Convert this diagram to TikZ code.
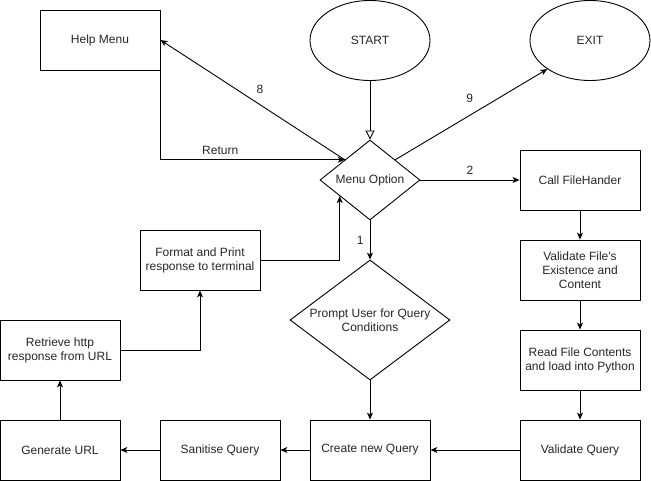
\documentclass[tikz,border=0pt]{standalone}
\usepackage{fontspec}
\setmainfont{Liberation Sans}
\usetikzlibrary{shapes.geometric,arrows.meta,calc}
\begin{document}
\begin{tikzpicture}[x=1pt,y=-1pt,
  font=\fontsize{12}{14}\selectfont,
  every node/.style={text=black!85},
  box/.style={draw=black,line width=0.9pt,rectangle,minimum width=120pt,minimum height=60pt,inner sep=0pt,align=center},
  oval/.style={draw=black,line width=0.9pt,ellipse,minimum width=120pt,minimum height=80pt,inner sep=0pt},
  dia/.style={draw=black,line width=0.9pt,diamond,inner sep=0pt},
  conn/.style={draw=black,line width=0.9pt,-{Stealth[length=7pt,width=6pt,inset=2pt]}},
  lbl/.style={inner sep=1pt}
]
\useasboundingbox (0,0) rectangle (651,481);

\node[box] (help) at (100,40) {Help Menu};
\node[oval] (start) at (370,40.5) {START};
\node[oval] (exit) at (590,40.5) {EXIT};
\node[dia,minimum width=100pt,minimum height=80pt] (menu) at (370,180) {};
\node at (menu) {Menu Option};
\node[box] (call) at (580,180) {Call FileHander};
\node[box] (fmt) at (200,260) {Format and Print\\response to terminal};
\node[box] (vfile) at (580,270) {Validate File\textquotesingle s\\Existence and\\Content};
\node[dia,minimum width=160pt,minimum height=120pt] (prompt) at (370,320) {};
\node[align=center] at (370,320) {Prompt User for Query\\Conditions};
\node[box] (retr) at (60,350) {Retrieve http\\response from URL};
\node[box] (read) at (580,360) {Read File Contents\\and load into Python};
\node[box] (gen) at (60,450) {Generate URL};
\node[box] (san) at (220,450) {Sanitise Query};
\node[box] (create) at (370,450) {Create new Query};
\node[box] (vq) at (580,450) {Validate Query};

\coordinate (mnw) at ($(menu.west)!0.5!(menu.north)$);
\coordinate (mne) at ($(menu.east)!0.5!(menu.north)$);
\coordinate (msw) at ($(menu.west)!0.4!(menu.south)$);

\draw[draw=black,line width=0.9pt,-{Triangle[open,length=9pt,width=9pt]}] (start.south) -- (menu.north);
\draw[conn] (mnw) -- node[lbl,pos=0.46,above=10pt] {8} (help.east);
\draw[conn] (help.south east) |- node[lbl,pos=0.662,above=4pt] {Return} (mnw);
\draw[conn] (mne) -- node[lbl,pos=0.49,above=11pt] {9} (exit.south west);
\draw[conn] (menu.east) -- node[lbl,above=4pt] {2} (call.west);
\draw[conn] (menu.south) -- node[lbl,pos=0.5,left=5pt] {1} (prompt.north);
\draw[conn] (fmt.east) -| (msw);
\draw[conn] (call.south) -- (vfile.north);
\draw[conn] (vfile.south) -- (read.north);
\draw[conn] (read.south) -- (vq.north);
\draw[conn] (vq.west) -- (create.east);
\draw[conn] (prompt.south) -- (create.north);
\draw[conn] (create.west) -- (san.east);
\draw[conn] (san.west) -- (gen.east);
\draw[conn] (gen.north) -- (retr.south);
\draw[conn] (retr.east) -| (fmt.south);
\end{tikzpicture}
\end{document}
